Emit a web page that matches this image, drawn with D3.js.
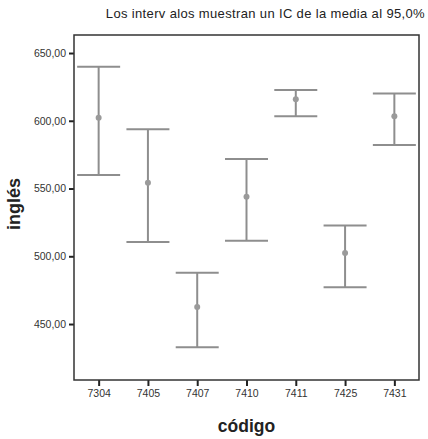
<!DOCTYPE html>
<html>
<head>
<meta charset="utf-8">
<script src="https://cdn.jsdelivr.net/npm/d3@7"></script>
<style>
  body { margin: 0; background: #fff; }
  svg { display: block; font-family: Arial, "Liberation Sans", sans-serif; }
</style>
</head>
<body>
<svg id="chart" width="428" height="439"></svg>
<script>
// group codes and 95% CI of the mean for "inglés"
const codes = ["7304", "7405", "7407", "7410", "7411", "7425", "7431"];
const means = [602.3, 554.3, 462.5, 544.0, 615.8, 502.4, 603.3];
const lower = [560.0, 510.5, 432.8, 511.5, 603.3, 477.1, 582.1];
const upper = [639.9, 593.7, 487.9, 571.8, 622.7, 522.8, 620.2];
const yTicks = [450, 500, 550, 600, 650];

const svg = d3.select("#chart");
const box = { left: 74, right: 419, top: 35, bottom: 380 };

const x = d3.scalePoint().domain(codes).range([box.left, box.right]).padding(0.5);
const y = d3.scaleLinear().domain([408.7, 663.3]).range([box.bottom, box.top]);

const fmt = d => d3.format(".2f")(d).replace(".", ",");

// title
svg.append("text")
  .attr("x", 425).attr("y", 18)
  .attr("text-anchor", "end")
  .attr("font-size", "13px")
  .attr("letter-spacing", "0.35px")
  .attr("fill", "#222")
  .text("Los interv alos muestran un IC de la media al 95,0%");

// y axis
const yAxis = svg.append("g")
  .attr("transform", `translate(${box.left},0)`)
  .call(d3.axisLeft(y).tickValues(yTicks).tickFormat(fmt).tickSize(5).tickPadding(3));
yAxis.select(".domain").remove();
yAxis.selectAll("line").attr("stroke", "#222").attr("stroke-width", 2);
yAxis.selectAll("text").attr("font-size", "10.5px").attr("fill", "#333")
  .attr("font-family", "Arial, 'Liberation Sans', sans-serif");

// x axis
const xAxis = svg.append("g")
  .attr("transform", `translate(0,${box.bottom})`)
  .call(d3.axisBottom(x).tickSize(6).tickPadding(4));
xAxis.select(".domain").remove();
xAxis.selectAll("line").attr("stroke", "#222").attr("stroke-width", 2);
xAxis.selectAll("text").attr("font-size", "10.5px").attr("fill", "#333")
  .attr("font-family", "Arial, 'Liberation Sans', sans-serif");

// frame
svg.append("rect")
  .attr("x", box.left).attr("y", box.top)
  .attr("width", box.right - box.left).attr("height", box.bottom - box.top)
  .attr("fill", "none").attr("stroke", "#333").attr("stroke-width", 1.5);

// error bars
const cap = 21.5;
const bars = svg.append("g").attr("stroke", "#8e8e8e").attr("stroke-width", 2);
codes.forEach((c, i) => {
  const cx = x(c);
  bars.append("line").attr("x1", cx).attr("x2", cx)
    .attr("y1", y(lower[i])).attr("y2", y(upper[i]));
  bars.append("line").attr("x1", cx - cap).attr("x2", cx + cap)
    .attr("y1", y(upper[i])).attr("y2", y(upper[i]));
  bars.append("line").attr("x1", cx - cap).attr("x2", cx + cap)
    .attr("y1", y(lower[i])).attr("y2", y(lower[i]));
});

svg.append("g").selectAll("circle")
  .data(codes)
  .join("circle")
  .attr("cx", d => x(d))
  .attr("cy", (d, i) => y(means[i]))
  .attr("r", 3)
  .attr("fill", "#9a9a9a");

// axis titles
svg.append("text")
  .attr("transform", `translate(20,204) rotate(-90)`)
  .attr("text-anchor", "middle")
  .attr("font-size", "18px").attr("font-weight", "bold")
  .attr("fill", "#222")
  .text("inglés");

svg.append("text")
  .attr("x", (box.left + box.right) / 2).attr("y", 432)
  .attr("text-anchor", "middle")
  .attr("font-size", "17.5px").attr("font-weight", "bold")
  .attr("fill", "#222")
  .text("código");
</script>
</body>
</html>
